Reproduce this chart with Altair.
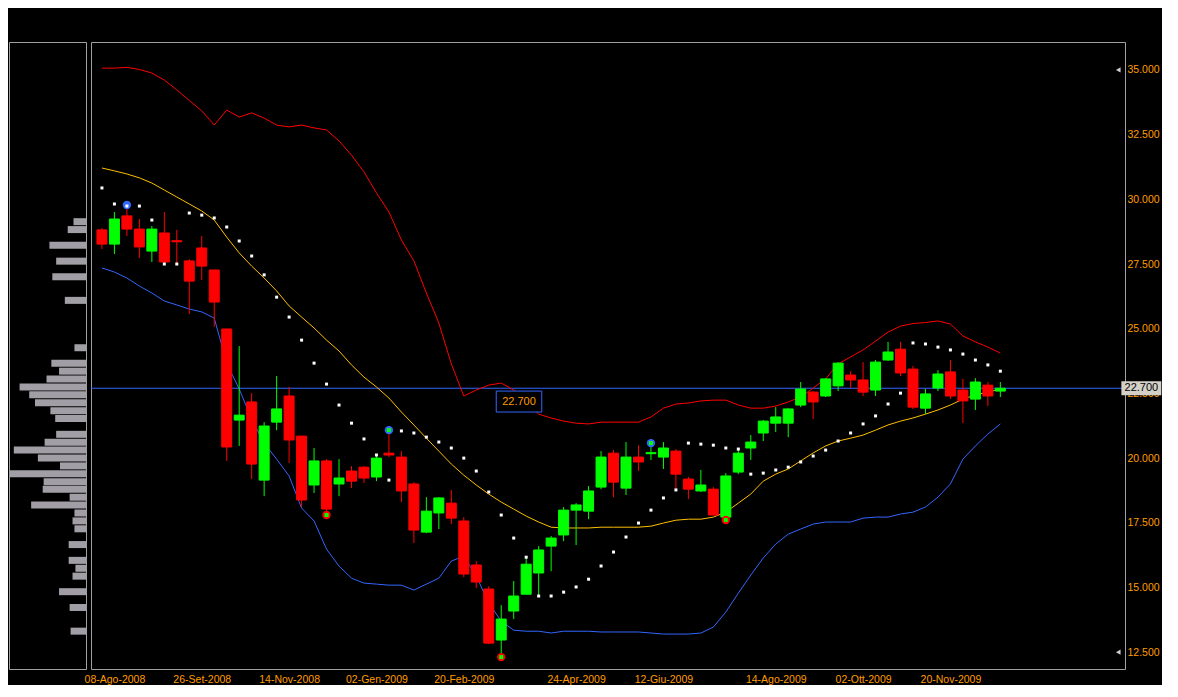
import altair as alt
import pandas as pd

# ---------------- data (weekly candles, 01-Ago-2008 .. 18-Dic-2009) ----------------
opens = [28.82, 28.27, 29.36, 28.85, 28.00, 28.70, 28.40, 27.62, 28.12, 27.27,
         24.99, 21.47, 22.17, 19.15, 21.39, 22.40, 20.85, 18.96, 19.89, 19.00,
         19.50, 19.65, 19.27, 20.19, 20.04, 19.00, 17.14, 17.88, 18.26, 17.57,
         15.87, 14.94, 12.97, 14.09, 14.74, 15.56, 16.60, 17.03, 17.99, 17.95,
         18.88, 20.19, 18.84, 20.04, 20.17, 20.04, 20.27, 19.19, 18.73, 18.80,
         17.72, 19.46, 20.39, 20.97, 21.35, 21.35, 22.05, 22.55, 22.40, 22.79,
         23.21, 23.02, 22.63, 23.79, 24.21, 23.44, 21.93, 22.71, 23.33, 22.63,
         22.28, 22.82, 22.59]
highs = [28.89, 29.51, 29.63, 29.24, 28.97, 29.51, 28.82, 27.69, 28.58, 27.27,
         25.00, 24.33, 22.51, 21.39, 23.17, 22.75, 20.85, 20.39, 19.96, 19.96,
         19.69, 19.69, 20.08, 20.93, 20.27, 19.07, 18.49, 18.49, 18.77, 17.72,
         16.02, 15.05, 14.32, 15.25, 16.17, 16.60, 16.99, 18.11, 18.26, 18.92,
         20.27, 20.31, 20.62, 20.50, 20.43, 20.62, 20.35, 19.27, 19.54, 18.88,
         19.42, 20.35, 20.89, 21.47, 21.97, 21.93, 22.94, 22.59, 23.09, 23.71,
         23.36, 23.71, 23.79, 24.49, 24.49, 23.56, 22.67, 23.40, 23.79, 23.06,
         23.09, 22.94, 22.94]
lows = [28.08, 27.89, 28.58, 27.73, 27.58, 27.54, 27.50, 25.57, 26.88, 25.07,
        19.89, 20.47, 19.19, 18.53, 21.08, 19.81, 18.11, 18.65, 17.95, 18.53,
        18.84, 19.04, 19.11, 20.04, 18.30, 16.72, 17.10, 17.26, 17.45, 15.40,
        14.98, 12.81, 12.46, 13.78, 14.74, 14.71, 15.63, 16.79, 16.64, 17.64,
        18.80, 18.49, 18.57, 19.50, 19.93, 19.58, 18.80, 18.42, 18.69, 17.80,
        17.68, 19.38, 19.93, 20.66, 21.01, 20.81, 21.97, 21.51, 22.36, 22.59,
        22.71, 22.40, 22.40, 23.75, 23.17, 21.90, 21.70, 22.59, 22.28, 21.36,
        21.86, 22.01, 22.36]
closes = [28.27, 29.24, 28.85, 28.16, 28.85, 27.58, 28.36, 26.84, 27.42, 26.03,
          20.43, 21.66, 19.77, 21.24, 21.90, 20.70, 18.38, 19.89, 18.03, 19.23,
          19.11, 19.23, 20.00, 20.12, 18.73, 17.22, 17.95, 18.46, 17.68, 15.52,
          15.21, 12.85, 13.78, 14.67, 15.90, 16.45, 16.91, 17.99, 18.19, 18.73,
          20.04, 19.07, 20.04, 19.85, 20.21, 20.39, 19.38, 18.80, 18.96, 17.80,
          19.31, 20.19, 20.62, 21.43, 21.59, 21.90, 22.67, 22.17, 23.06, 23.67,
          23.02, 22.55, 23.71, 24.10, 23.29, 21.97, 22.48, 23.25, 22.40, 22.21,
          22.94, 22.40, 22.70]

upper_band = [35.07, 35.07, 35.10, 35.02, 34.88, 34.61, 34.23, 33.82, 33.42, 32.87,
              33.45, 33.18, 33.34, 33.14, 32.87, 32.80, 32.87, 32.76, 32.68, 32.26,
              31.71, 31.06, 30.25, 29.51, 28.43, 27.62, 26.38, 25.22, 23.64, 22.40,
              22.63, 22.82, 22.90, 22.63, 22.17, 21.70, 21.55, 21.43, 21.35, 21.32,
              21.39, 21.39, 21.39, 21.39, 21.59, 21.93, 22.09, 22.13, 22.21, 22.24,
              22.24, 22.05, 21.93, 21.93, 22.01, 22.17, 22.36, 22.71, 23.06, 23.64,
              23.91, 24.18, 24.52, 24.87, 25.10, 25.20, 25.24, 25.30, 25.18, 24.72,
              24.49, 24.29, 24.06]
middle_band = [31.21, 31.10, 30.98, 30.83, 30.63, 30.36, 30.09, 29.82, 29.55, 29.20,
               28.54, 27.93, 27.42, 26.96, 26.46, 25.88, 25.45, 25.03, 24.56, 24.14,
               23.60, 23.13, 22.75, 22.32, 21.78, 21.28, 20.77, 20.27, 19.77, 19.34,
               18.96, 18.61, 18.30, 18.03, 17.76, 17.53, 17.33, 17.30, 17.30, 17.30,
               17.33, 17.33, 17.33, 17.33, 17.37, 17.49, 17.60, 17.64, 17.64, 17.72,
               17.91, 18.26, 18.61, 19.11, 19.38, 19.58, 19.89, 20.20, 20.47, 20.66,
               20.77, 20.89, 21.08, 21.28, 21.43, 21.55, 21.70, 21.86, 22.05, 22.28,
               22.44, 22.55, 22.67]
lower_band = [27.35, 27.19, 26.96, 26.65, 26.38, 26.07, 25.92, 25.76, 25.65, 25.41,
              23.67, 22.67, 21.51, 20.58, 19.96, 19.31, 18.07, 17.57, 16.48, 15.83,
              15.36, 15.17, 15.13, 15.09, 15.09, 14.90, 15.13, 15.36, 16.02, 16.21,
              15.44, 14.40, 13.70, 13.35, 13.31, 13.31, 13.24, 13.31, 13.31, 13.31,
              13.28, 13.28, 13.28, 13.28, 13.24, 13.20, 13.20, 13.20, 13.24, 13.47,
              14.05, 14.78, 15.48, 16.14, 16.68, 17.06, 17.26, 17.45, 17.53, 17.53,
              17.53, 17.68, 17.72, 17.72, 17.84, 17.91, 18.11, 18.49, 19.00, 19.96,
              20.47, 20.93, 21.32]
sar = [30.44, 29.82, 29.74, 29.74, 29.20, 27.50, 27.50, 29.47, 29.39, 29.28,
       28.93, 28.39, 27.81, 27.08, 26.22, 25.45, 24.56, 23.67, 22.86, 22.05,
       21.35, 20.74, 20.12, 19.15, 21.05, 20.97, 20.81, 20.62, 20.39, 20.00,
       19.50, 18.69, 17.80, 16.91, 16.17, 14.67, 14.67, 14.82, 15.02, 15.32,
       15.83, 16.37, 16.95, 17.49, 17.99, 18.46, 18.77, 20.58, 20.54, 20.50,
       20.39, 20.35, 19.38, 19.42, 19.54, 19.65, 19.85, 20.08, 20.31, 20.66,
       20.97, 21.32, 21.63, 22.09, 22.51, 24.45, 24.41, 24.29, 24.18, 24.02,
       23.79, 23.60, 23.36]

# signal markers (candle index, price)
blue_marker_idx = [2, 23, 44]
blue_marker_val = [29.78, 21.08, 20.58]
red_marker_idx = [18, 32, 50]
red_marker_val = [17.80, 12.31, 17.61]

# volume-at-price histogram (left panel)
hist_price = [29.22, 28.91, 28.29, 27.67, 27.06, 26.13, 24.27, 23.66, 23.35, 23.04,
              22.73, 22.42, 22.11, 21.80, 21.49, 20.87, 20.56, 20.25, 19.94, 19.63,
              19.32, 19.01, 18.71, 18.40, 18.09, 17.78, 17.47, 17.16, 16.54, 15.92,
              15.61, 15.30, 14.69, 14.07, 13.14]
hist_volume = [13, 19, 38, 31, 35, 22, 12, 36, 28, 41,
               69, 59, 53, 37, 32, 31, 43, 75, 50, 27,
               80, 44, 45, 17, 57, 12, 14, 12, 18, 18,
               11, 14, 28, 17, 16]

x_tick_index = [1, 8, 15, 22, 29, 38, 45, 54, 61, 68]
x_tick_labels = ["08-Ago-2008", "26-Set-2008", "14-Nov-2008", "02-Gen-2009", "20-Feb-2009",
                 "24-Apr-2009", "12-Giu-2009", "14-Ago-2009", "02-Ott-2009", "20-Nov-2009"]
y_ticks = [12.5, 15.0, 17.5, 20.0, 22.5, 25.0, 27.5, 30.0, 32.5, 35.0]
last_price = 22.70

# annotation placement (data units)
box_x = [31.6, 35.25]
box_y = [21.78, 22.59]
tag_x = [81.7, 84.9]
tag_y = [22.43, 22.97]

# ---------------- styling ----------------
ORANGE = "#ff9c00"
GREEN = "#00ff00"
RED = "#ff0000"
BLUE = "#3366ff"
YELLOW = "#ffbf00"
FRAME = "#a0a0a0"
HISTGRAY = "#a29ea6"
FONT = "Liberation Sans"

X_DOMAIN = [-0.476, 81.59]
Y_DOMAIN = [11.85, 36.08]

n = len(opens)
df = pd.DataFrame({
    "i": list(range(n)),
    "open": opens, "high": highs, "low": lows, "close": closes,
    "upper": upper_band, "middle": middle_band, "lower": lower_band, "sar": sar,
})
df["dir"] = ["up" if c >= o else "down" for o, c in zip(opens, closes)]

label_expr = ("[" + ",".join("'%s'" % s for s in x_tick_labels) + "]"
              "[indexof([" + ",".join(str(v) for v in x_tick_index) + "], datum.value)]")

xscale = alt.Scale(domain=X_DOMAIN, nice=False, zero=False)
yscale = alt.Scale(domain=Y_DOMAIN, nice=False, zero=False)
xaxis = alt.Axis(values=x_tick_index, labelExpr=label_expr, labelColor=ORANGE,
                 labelFont=FONT, labelFontSize=10.5, tickSize=0, domain=False,
                 grid=False, labelPadding=5, title=None, labelFlush=False)
yaxis = alt.Axis(orient="right", values=y_ticks, format=".3f", labelColor=ORANGE,
                 labelFont=FONT, labelFontSize=10.5, tickSize=0, domain=False,
                 grid=False, labelPadding=2, title=None, labelAlign="left")


def X(field):
    return alt.X(field, scale=xscale, axis=xaxis)


def Y(field):
    return alt.Y(field, scale=yscale, axis=yaxis)


candle_color = alt.Scale(domain=["up", "down"], range=[GREEN, RED])

base = alt.Chart(df)

wicks = base.mark_rule(strokeWidth=1).encode(
    x=X("i:Q"), y=Y("low:Q"), y2="high:Q",
    color=alt.Color("dir:N", scale=candle_color, legend=None),
)
bodies = base.mark_bar(width=10, strokeWidth=1).encode(
    x=X("i:Q"), y=Y("open:Q"), y2="close:Q",
    color=alt.Color("dir:N", scale=candle_color, legend=None),
    stroke=alt.Stroke("dir:N", scale=candle_color, legend=None),
)
upper_line = base.mark_line(color=RED, strokeWidth=1).encode(x=X("i:Q"), y=Y("upper:Q"))
middle_line = base.mark_line(color=YELLOW, strokeWidth=1).encode(x=X("i:Q"), y=Y("middle:Q"))
lower_line = base.mark_line(color=BLUE, strokeWidth=1).encode(x=X("i:Q"), y=Y("lower:Q"))

hline = alt.Chart(pd.DataFrame({"p": [last_price]})).mark_rule(
    color=BLUE, strokeWidth=1).encode(y=Y("p:Q"))

blue_df = pd.DataFrame({"i": blue_marker_idx, "v": blue_marker_val})
red_df = pd.DataFrame({"i": red_marker_idx, "v": red_marker_val})
inner_df = pd.DataFrame({"i": blue_marker_idx[1:] + red_marker_idx,
                         "v": blue_marker_val[1:] + red_marker_val})

blue_marks = alt.Chart(blue_df).mark_circle(color=BLUE, size=70, opacity=1).encode(
    x=X("i:Q"), y=Y("v:Q"))
red_marks = alt.Chart(red_df).mark_circle(color=RED, size=70, opacity=1).encode(
    x=X("i:Q"), y=Y("v:Q"))
inner_marks = alt.Chart(inner_df).mark_square(color=GREEN, size=16, opacity=1).encode(
    x=X("i:Q"), y=Y("v:Q"))

sar_dots = base.mark_square(color="white", size=9, opacity=1).encode(
    x=X("i:Q"), y=Y("sar:Q"))

box_df = pd.DataFrame({"x": [box_x[0]], "x2": [box_x[1]], "y": [box_y[0]], "y2": [box_y[1]],
                       "xc": [(box_x[0] + box_x[1]) / 2], "yc": [(box_y[0] + box_y[1]) / 2],
                       "t": ["%.3f" % last_price]})
box = alt.Chart(box_df).mark_rect(fill="black", stroke=BLUE, strokeWidth=1).encode(
    x=X("x:Q"), x2="x2:Q", y=Y("y:Q"), y2="y2:Q")
box_text = alt.Chart(box_df).mark_text(color=ORANGE, font=FONT, fontSize=11).encode(
    x=X("xc:Q"), y=Y("yc:Q"), text="t:N")

tag_df = pd.DataFrame({"x": [tag_x[0]], "x2": [tag_x[1]], "y": [tag_y[0]], "y2": [tag_y[1]],
                       "xc": [(tag_x[0] + tag_x[1]) / 2], "yc": [last_price],
                       "t": ["%.3f" % last_price]})
tag = alt.Chart(tag_df).mark_rect(fill="#d4d0c8", clip=False).encode(
    x=X("x:Q"), x2="x2:Q", y=Y("y:Q"), y2="y2:Q")
tag_text = alt.Chart(tag_df).mark_text(color="black", font=FONT, fontSize=11, clip=False).encode(
    x=X("xc:Q"), y=Y("yc:Q"), text="t:N")

arrow_df = pd.DataFrame({"i": [81.45, 81.45], "v": [y_ticks[-1], y_ticks[0]]})
arrows = alt.Chart(arrow_df).mark_point(shape="triangle-left", filled=True, color="#d0d0d0",
                                        size=28, opacity=1, clip=False).encode(
    x=X("i:Q"), y=Y("v:Q"))

main = alt.layer(
    hline, upper_line, middle_line, lower_line, wicks, bodies,
    blue_marks, red_marks, inner_marks, sar_dots, box, box_text, tag, tag_text, arrows,
).properties(width=1034, height=627)

hist_df = pd.DataFrame({"price": hist_price, "vol": hist_volume})
left = alt.Chart(hist_df).mark_bar(height=7, orient="horizontal", color=HISTGRAY).encode(
    x=alt.X("vol:Q", scale=alt.Scale(domain=[0, 80], reverse=True, nice=False, zero=True), axis=None),
    y=alt.Y("price:Q", scale=alt.Scale(domain=Y_DOMAIN, nice=False, zero=False), axis=None),
).properties(width=77, height=627)

chart = alt.hconcat(left, main, spacing=5, bounds="flush").properties(
    background="black",
    padding={"left": 0, "top": 33, "right": 0, "bottom": 0},
).configure_view(stroke=FRAME, strokeWidth=1, fill="black")

chart.save("out.html", embed_options={"renderer": "svg", "actions": False})
